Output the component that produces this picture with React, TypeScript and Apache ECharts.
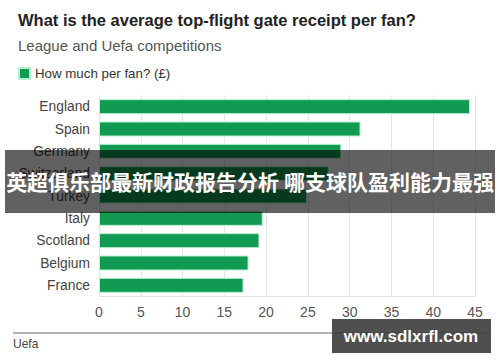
import React, { useEffect, useRef } from "react";
import * as echarts from "echarts";

const categories = ["England", "Spain", "Germany", "Switzerland", "Turkey", "Italy", "Scotland", "Belgium", "France"];
const perFan = [44.4, 31.3, 29.0, 27.5, 24.9, 19.6, 19.2, 17.9, 17.3];
const seriesName = "How much per fan? (£)";
const titleText = "What is the average top-flight gate receipt per fan?";
const subtitleText = "League and Uefa competitions";
const sourceText = "Uefa";
const overlayText = "英超俱乐部最新财政报告分析 哪支球队盈利能力最强";
const watermarkText = "www.sdlxrfl.com";

const FONT = "'Liberation Sans', Arial, Helvetica, sans-serif";
const CJK = "'Noto Sans CJK SC', sans-serif";

export default function App() {
  const ref = useRef<HTMLDivElement>(null);
  useEffect(() => {
    document.body.style.margin = "0";
    if (!ref.current) return;
    const chart = echarts.init(ref.current, null, { renderer: "svg" });
    chart.setOption({
      animation: false,
      backgroundColor: "#ffffff",
      textStyle: { fontFamily: FONT },
      title: [
        {
          text: titleText,
          left: 13,
          top: 6,
          textStyle: { fontSize: 16.5, fontWeight: "bold", color: "#222222", fontFamily: FONT },
        },
        {
          text: subtitleText,
          left: 13,
          top: 33,
          textStyle: { fontSize: 15, fontWeight: "normal", color: "#555555", fontFamily: FONT },
        },
      ],
      legend: {
        left: 13,
        top: 62,
        icon: "rect",
        itemWidth: 11,
        itemHeight: 11,
        itemGap: 6,
        textStyle: { fontSize: 13.3, color: "#333333", fontFamily: FONT },
        data: [seriesName],
      },
      grid: { left: 99, right: 25, top: 95.5, bottom: 65.5, containLabel: false },
      xAxis: {
        type: "value",
        min: 0,
        max: 45,
        interval: 5,
        axisLine: { show: true, lineStyle: { color: "#e2e2e2" } },
        axisTick: { show: false },
        axisLabel: { color: "#555555", fontSize: 14, margin: 8, fontFamily: FONT },
        splitLine: { show: true, lineStyle: { color: "#e6e6e6" } },
      },
      yAxis: {
        type: "category",
        inverse: true,
        data: categories,
        axisLine: { show: false },
        axisTick: { show: false },
        axisLabel: { color: "#444444", fontSize: 13.8, margin: 9, fontFamily: FONT },
      },
      series: [
        {
          name: seriesName,
          type: "bar",
          data: perFan,
          barWidth: 15,
          itemStyle: { color: "#119a52", borderColor: "#b9f0d2", borderWidth: 1 },
        },
      ],
      graphic: [
        {
          type: "rect",
          z: 100,
          shape: { x: 5, y: 150, width: 490, height: 63 },
          style: { fill: "rgba(0,0,0,0.62)" },
        },
        {
          type: "text",
          z: 101,
          x: 250,
          y: 181,
          style: {
            text: overlayText,
            fill: "#ffffff",
            fontSize: 21,
            fontWeight: "bold",
            fontFamily: CJK,
            textAlign: "center",
            textVerticalAlign: "middle",
          },
        },
        {
          type: "line",
          z: 100,
          shape: { x1: 13, y1: 333, x2: 490, y2: 333 },
          style: { stroke: "#666666", lineWidth: 1 },
        },
        {
          type: "text",
          z: 100,
          x: 13,
          y: 344,
          style: {
            text: sourceText,
            fill: "#444444",
            fontSize: 12,
            fontFamily: FONT,
            textVerticalAlign: "middle",
          },
        },
        {
          type: "rect",
          z: 100,
          shape: { x: 332, y: 319, width: 159, height: 34 },
          style: { fill: "rgba(60,60,60,0.9)" },
        },
        {
          type: "text",
          z: 101,
          x: 411,
          y: 336,
          style: {
            text: watermarkText,
            fill: "#ffffff",
            fontSize: 17,
            fontWeight: "bold",
            fontFamily: FONT,
            textAlign: "center",
            textVerticalAlign: "middle",
          },
        },
      ],
    });
    return () => chart.dispose();
  }, []);
  return <div ref={ref} style={{ width: 500, height: 362 }} />;
}
